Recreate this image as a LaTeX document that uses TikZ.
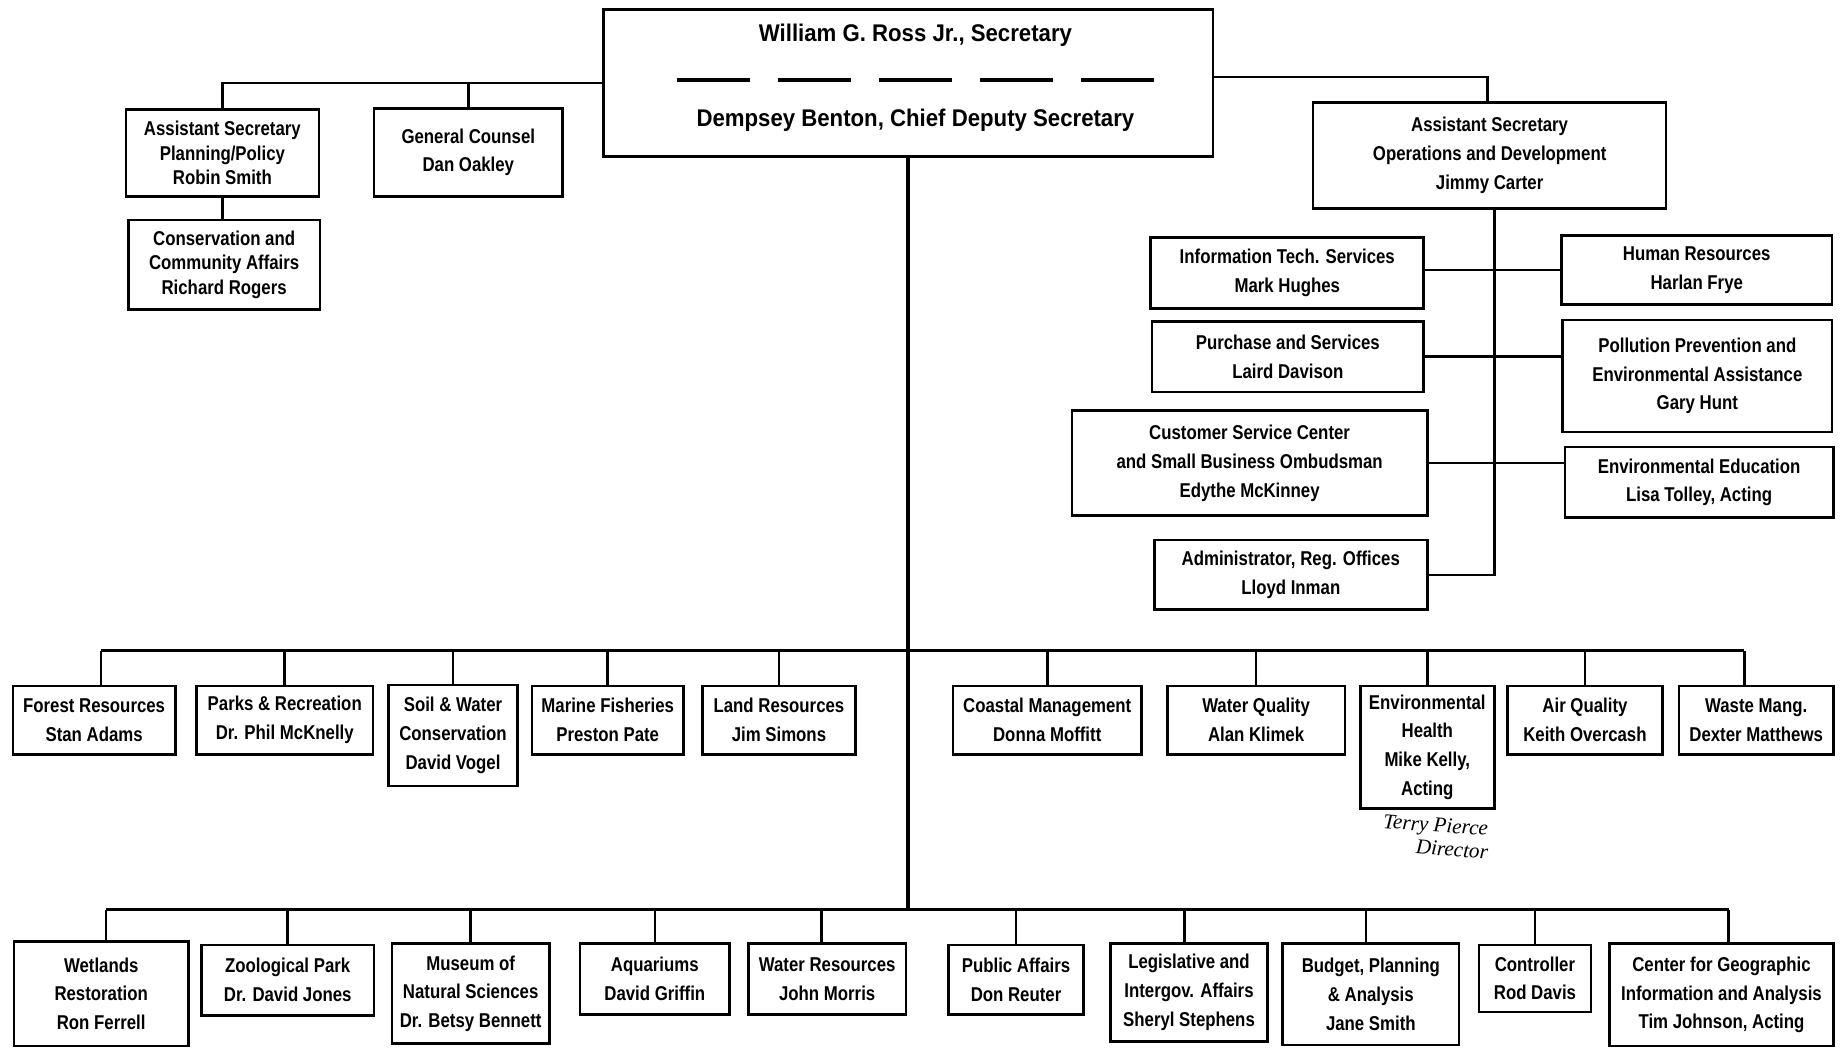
\documentclass[tikz,border=0pt]{standalone}
\usepackage{fontspec}
\setmainfont{Liberation Sans}[FakeStretch=0.84]
\newfontfamily\secfont{Liberation Sans}[FakeStretch=0.92]
\newfontfamily\handfont{Liberation Serif}
\begin{document}
\begin{tikzpicture}[x=1pt,y=-1pt,
  box/.style={draw, line width=2.2pt, align=center, inner sep=0pt,
    font=\bfseries\fontsize{17}{24.5}\selectfont},
  tightbox/.style={box, font=\bfseries\fontsize{17}{20.5}\selectfont},
  conn/.style={line width=2.2pt},
  mainline/.style={line width=3.4pt},
  sectext/.style={font=\secfont\bfseries\fontsize{20.5}{24}\selectfont, inner sep=0pt},
  hand/.style={font=\handfont\itshape\fontsize{18}{20}\selectfont, inner sep=0pt}]
\useasboundingbox (0,0) rectangle (1568,891);
\fill[white] (0,0) rectangle (1568,891);

% Secretary
\node[draw, line width=2.2pt, minimum width=518pt, minimum height=125pt, inner sep=0pt] (sec) at (772,70.5) {};
\node[sectext] (secA) at (778,30) {William G. Ross Jr., Secretary};
\node[sectext] (secB) at (778,102) {Dempsey Benton, Chief Deputy Secretary};
\draw[line width=2.6pt, dash pattern=on 62pt off 24pt] (575,68) -- (981,68);

% Top left
\node[tightbox, minimum width=164pt, minimum height=74pt] (asp) at (189,130) {Assistant Secretary\\Planning/Policy\\Robin Smith};
\node[box, minimum width=160pt, minimum height=75pt] (gc) at (398,129.5) {General Counsel\\Dan Oakley};
\node[tightbox, minimum width=163pt, minimum height=76pt] (cca) at (190.5,225) {Conservation and\\Community Affairs\\Richard Rogers};

% Top right
\node[box, minimum width=300pt, minimum height=90pt] (aso) at (1266,132) {Assistant Secretary\\Operations and Development\\Jimmy Carter};
\node[box, minimum width=232pt, minimum height=60pt] (its) at (1094,232) {Information Tech. Services\\Mark Hughes};
\node[box, minimum width=230pt, minimum height=59pt] (hr) at (1442,229.5) {Human Resources\\Harlan Frye};
\node[box, minimum width=231pt, minimum height=60pt] (pur) at (1094.5,303) {Purchase and Services\\Laird Davison};
\node[box, minimum width=229pt, minimum height=95pt] (ppe) at (1442.5,319.5) {Pollution Prevention and\\Environmental Assistance\\Gary Hunt};
\node[box, minimum width=302pt, minimum height=89pt] (csc) at (1062,393.5) {Customer Service Center\\and Small Business Ombudsman\\Edythe McKinney};
\node[box, minimum width=228pt, minimum height=60pt] (eed) at (1444,410) {Environmental Education\\Lisa Tolley, Acting};
\node[box, minimum width=232pt, minimum height=59pt] (adm) at (1097,488.5) {Administrator, Reg. Offices\\Lloyd Inman};

% Middle row
\coordinate (mbus) at (773,553);
\node[box, minimum width=138pt, minimum height=58pt] (forest) at (80,612) {Forest Resources\\Stan Adams};
\node[box, minimum width=150pt, minimum height=58pt] (parks) at (242,612) {Parks \& Recreation\\Dr. Phil McKnelly};
\node[box, minimum width=110pt, minimum height=86pt] (soil) at (385,625) {Soil \& Water\\Conservation\\David Vogel};
\node[box, minimum width=129pt, minimum height=58pt] (marine) at (516.5,612) {Marine Fisheries\\Preston Pate};
\node[box, minimum width=130pt, minimum height=58pt] (land) at (662,612) {Land Resources\\Jim Simons};
\node[box, minimum width=160pt, minimum height=58pt] (coastal) at (890,612) {Coastal Management\\Donna Moffitt};
\node[box, minimum width=151pt, minimum height=58pt] (waterq) at (1067.5,612) {Water Quality\\Alan Klimek};
\node[box, minimum width=114pt, minimum height=104pt] (envh) at (1213,635) {Environmental\\Health\\Mike Kelly,\\Acting};
\node[box, minimum width=132pt, minimum height=58pt] (air) at (1347,612) {Air Quality\\Keith Overcash};
\node[box, minimum width=131pt, minimum height=58pt] (waste) at (1492.5,612) {Waste Mang.\\Dexter Matthews};

\node[hand, rotate=-4] (terry) at (1220,703) {Terry Pierce};
\node[hand, rotate=-4] (director) at (1234,722) {Director};

% Bottom row
\coordinate (bbus) at (773,773);
\node[box, minimum width=148pt, minimum height=89pt] (wet) at (86,844.5) {Wetlands\\Restoration\\Ron Ferrell};
\node[box, minimum width=147pt, minimum height=60pt] (zoo) at (244.5,833) {Zoological Park\\Dr. David Jones};
\node[box, minimum width=134pt, minimum height=85pt] (mus) at (400,844.5) {Museum of\\Natural Sciences\\Dr. Betsy Bennett};
\node[box, minimum width=127pt, minimum height=60pt] (aqu) at (556.5,832) {Aquariums\\David Griffin};
\node[box, minimum width=134pt, minimum height=60pt] (wres) at (703,832) {Water Resources\\John Morris};
\node[box, minimum width=115pt, minimum height=59pt] (pub) at (863.5,832.5) {Public Affairs\\Don Reuter};
\node[box, minimum width=133pt, minimum height=83pt] (leg) at (1010.5,843.5) {Legislative and\\Intergov. Affairs\\Sheryl Stephens};
\node[box, minimum width=150pt, minimum height=86pt] (bud) at (1165,845) {Budget, Planning\\\& Analysis\\Jane Smith};
\node[box, minimum width=95pt, minimum height=57pt] (ctl) at (1304.5,831.5) {Controller\\Rod Davis};
\node[box, minimum width=190pt, minimum height=87pt] (cgi) at (1463,845.5) {Center for Geographic\\Information and Analysis\\Tim Johnson, Acting};

% Connectors: top
\draw[conn] (sec.west) -| (asp.north);
\draw[conn] (gc.north) -- (gc.north |- sec.west);
\draw[conn] (asp.south) -- (asp.south |- cca.north);
\draw[conn] ([yshift=5pt]sec.east) -| ([xshift=-2pt]aso.north);
\draw[conn] ([xshift=4pt]aso.south) |- (adm.east);
\draw[conn] (hr.west -| its.east) -- (hr.west);
\draw[conn] (pur.east) -- (pur.east -| ppe.west);
\draw[conn] (csc.east) -- (csc.east -| eed.west);

% Main trunk
\draw[mainline] (sec.south) -- (sec.south |- bbus);

% Middle bus
\draw[conn] ([xshift=6pt]forest.north |- mbus) -- ([xshift=-10pt]waste.north |- mbus);
\draw[conn] ([xshift=6pt]forest.north) -- ([xshift=6pt]forest.north |- mbus);
\foreach \n in {parks,soil,marine,land,coastal,waterq,envh,air}
  \draw[conn] (\n.north) -- (\n.north |- mbus);
\draw[conn] ([xshift=-10pt]waste.north) -- ([xshift=-10pt]waste.north |- mbus);

% Bottom bus
\draw[conn] ([xshift=4pt]wet.north |- bbus) -- ([xshift=6pt]cgi.north |- bbus);
\draw[conn] ([xshift=4pt]wet.north) -- ([xshift=4pt]wet.north |- bbus);
\foreach \n in {zoo,mus,aqu,pub,ctl}
  \draw[conn] (\n.north) -- (\n.north |- bbus);
\draw[conn] ([xshift=-5pt]wres.north) -- ([xshift=-5pt]wres.north |- bbus);
\draw[conn] ([xshift=-4pt]leg.north) -- ([xshift=-4pt]leg.north |- bbus);
\draw[conn] ([xshift=-4pt]bud.north) -- ([xshift=-4pt]bud.north |- bbus);
\draw[conn] ([xshift=6pt]cgi.north) -- ([xshift=6pt]cgi.north |- bbus);
\end{tikzpicture}
\end{document}
